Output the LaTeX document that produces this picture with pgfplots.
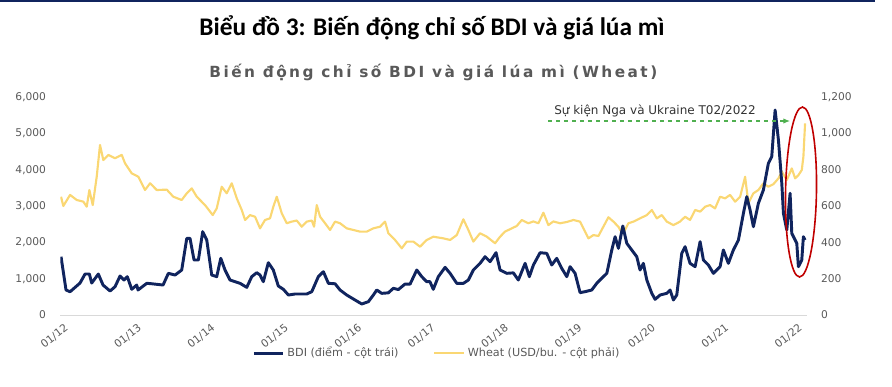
\documentclass[border=0pt]{standalone}
\usepackage{fontspec}
\setmainfont{DejaVu Sans}
\newfontfamily\carlito{Carlito}
\newfontfamily\subfont[LetterSpace=16]{DejaVu Sans}
\usepackage{pgfplots}
\pgfplotsset{compat=1.18}
\usetikzlibrary{arrows.meta}
\definecolor{bdi}{RGB}{16,36,94}
\definecolor{wheat}{RGB}{250,215,115}
\definecolor{tickgray}{RGB}{89,89,89}
\definecolor{ered}{RGB}{192,0,0}
\definecolor{agreen}{RGB}{80,176,80}

\pgfplotstableread{
x y
2012.000 651
2012.031 600
2012.123 661
2012.214 633
2012.304 624
2012.350 596
2012.386 688
2012.432 605
2012.486 761
2012.531 936
2012.576 853
2012.644 881
2012.736 863
2012.827 881
2012.872 835
2012.963 780
2013.053 761
2013.144 688
2013.213 725
2013.304 688
2013.440 690
2013.530 651
2013.644 633
2013.713 670
2013.781 697
2013.849 651
2013.962 605
2014.067 550
2014.121 587
2014.189 706
2014.257 670
2014.326 725
2014.394 642
2014.462 578
2014.507 523
2014.575 550
2014.643 541
2014.711 477
2014.779 523
2014.847 532
2014.892 596
2014.939 651
2015.007 560
2015.075 505
2015.143 514
2015.211 520
2015.279 486
2015.347 514
2015.416 520
2015.447 486
2015.484 605
2015.529 541
2015.597 505
2015.665 468
2015.733 514
2015.801 505
2015.892 477
2015.982 468
2016.074 459
2016.165 459
2016.255 477
2016.346 486
2016.414 514
2016.459 450
2016.550 413
2016.642 367
2016.710 404
2016.800 404
2016.891 376
2016.982 413
2017.072 431
2017.208 422
2017.300 413
2017.391 440
2017.481 527
2017.549 468
2017.617 404
2017.708 450
2017.800 431
2017.913 395
2017.981 431
2018.049 459
2018.140 477
2018.208 490
2018.277 523
2018.366 505
2018.435 515
2018.503 505
2018.571 563
2018.639 495
2018.707 515
2018.798 505
2018.890 512
2018.980 523
2019.071 514
2019.139 459
2019.185 422
2019.252 440
2019.321 435
2019.388 486
2019.457 538
2019.525 514
2019.593 486
2019.616 468
2019.661 450
2019.729 505
2019.797 514
2019.888 532
2019.980 550
2020.048 578
2020.116 532
2020.184 550
2020.252 514
2020.342 495
2020.433 514
2020.501 541
2020.569 523
2020.638 578
2020.706 569
2020.774 596
2020.842 605
2020.910 587
2020.978 651
2021.046 642
2021.114 661
2021.183 624
2021.251 651
2021.319 761
2021.364 615
2021.432 670
2021.500 688
2021.568 725
2021.636 706
2021.704 720
2021.773 752
2021.819 789
2021.887 743
2021.955 807
2022.000 752
2022.045 770
2022.091 798
2022.113 871
2022.136 1055
}\wheattable

\pgfplotstableread{
x y
2012.000 1605
2012.068 688
2012.123 640
2012.259 880
2012.327 1128
2012.386 1128
2012.418 880
2012.508 1128
2012.572 825
2012.668 660
2012.736 780
2012.804 1073
2012.858 963
2012.903 1055
2012.963 707
2013.031 825
2013.049 688
2013.168 872
2013.236 860
2013.390 825
2013.462 1147
2013.553 1100
2013.644 1238
2013.713 2110
2013.757 2110
2013.812 1513
2013.871 1513
2013.930 2293
2013.985 2064
2014.053 1100
2014.121 1055
2014.176 1560
2014.234 1238
2014.302 963
2014.439 872
2014.530 760
2014.598 1055
2014.666 1165
2014.711 1100
2014.756 917
2014.824 1440
2014.892 1238
2014.960 798
2015.029 707
2015.097 550
2015.188 578
2015.347 578
2015.416 642
2015.505 1055
2015.574 1192
2015.642 872
2015.733 860
2015.801 688
2015.892 550
2016.005 413
2016.097 303
2016.187 367
2016.255 550
2016.301 688
2016.369 596
2016.459 610
2016.527 735
2016.595 700
2016.687 853
2016.755 850
2016.846 1238
2016.914 1055
2016.982 917
2017.026 917
2017.071 707
2017.140 1055
2017.232 1312
2017.300 1147
2017.391 872
2017.481 870
2017.549 963
2017.617 1238
2017.708 1422
2017.777 1605
2017.845 1468
2017.926 1715
2017.981 1238
2018.072 1147
2018.162 1160
2018.230 963
2018.322 1422
2018.380 1055
2018.435 1376
2018.526 1715
2018.617 1697
2018.685 1376
2018.753 1560
2018.821 1285
2018.890 1055
2018.935 1330
2019.003 1147
2019.071 615
2019.139 642
2019.230 688
2019.298 872
2019.388 1055
2019.435 1147
2019.503 1789
2019.548 2155
2019.593 1835
2019.653 2450
2019.707 1973
2019.775 1789
2019.843 1605
2019.888 1238
2019.933 1422
2019.980 963
2020.048 596
2020.093 431
2020.161 550
2020.252 596
2020.297 688
2020.342 413
2020.388 550
2020.456 1697
2020.501 1880
2020.569 1422
2020.638 1330
2020.706 2018
2020.751 1513
2020.819 1376
2020.887 1147
2020.978 1330
2021.023 1789
2021.091 1422
2021.159 1789
2021.228 2064
2021.296 2799
2021.342 3256
2021.387 2890
2021.432 2430
2021.500 3074
2021.568 3440
2021.636 4175
2021.682 4357
2021.728 5642
2021.773 4816
2021.819 3624
2021.841 2799
2021.887 2339
2021.932 3349
2021.955 2248
2022.023 1973
2022.045 1330
2022.091 1513
2022.113 2155
2022.136 2064
}\bditable

\begin{document}
\begin{tikzpicture}
\path[use as bounding box] (0pt,0pt) rectangle (669pt,289.5pt);
\draw[bdi, line width=1.2pt] (0pt,288.9pt) -- (656pt,288.9pt);
\node at (324pt,268.5pt) {\carlito\bfseries\fontsize{19}{21}\selectfont Biểu đồ 3: Biến động chỉ số BDI và giá lúa mì};
\node[text=tickgray] at (325pt,235.5pt) {\subfont\bfseries\fontsize{11.5}{13}\selectfont Biến động chỉ số BDI và giá lúa mì (Wheat)};

% Wheat axis (right)
\begin{axis}[
  at={(45.225pt,53.25pt)}, anchor=south west,
  scale only axis, width=559.9pt, height=163.5pt,
  xmin=2011.99, xmax=2022.16, ymin=0, ymax=1200,
  axis y line*=right, axis x line=none,
  xtick=\empty,
  y axis line style={draw=none},
  ytick={0,200,...,1200},
  major tick length=0pt,
  yticklabel style={font=\fontsize{8}{9}\selectfont, text=tickgray, anchor=west, inner sep=0pt, xshift=10.5pt},
  /pgf/number format/1000 sep={,},
  /pgf/number format/assume math mode=true,
]
\addplot[wheat, line width=1.6pt, line join=round] table[x=x,y=y] {\wheattable};
\end{axis}

% BDI axis (left)
\begin{axis}[
  at={(45.225pt,53.25pt)}, anchor=south west,
  scale only axis, width=559.9pt, height=163.5pt,
  xmin=2011.99, xmax=2022.16, ymin=0, ymax=6000,
  axis x line*=bottom, axis y line*=left,
  y axis line style={draw=none},
  x axis line style={draw=black!15, line width=0.75pt, -},
  xtick={2012,2013,...,2022},
  xticklabels={01/12,01/13,01/14,01/15,01/16,01/17,01/18,01/19,01/20,01/21,01/22},
  ytick={0,1000,...,6000},
  major tick length=0pt,
  xticklabel style={font=\fontsize{8}{9}\selectfont, text=tickgray, rotate=38, anchor=east, inner sep=0pt, xshift=-2pt, yshift=-9.5pt},
  yticklabel style={font=\fontsize{8}{9}\selectfont, text=tickgray, anchor=east, inner sep=0pt, xshift=-10.5pt},
  legend style={at={(0.505,-0.175)}, anchor=center, draw=none, fill=none,
    font=\fontsize{8.4}{9}\selectfont, text=tickgray, legend columns=2,
    /tikz/every even column/.append style={column sep=24pt}},
  legend image code/.code={\draw[#1] (0pt,0pt) -- (22pt,0pt);},
  /pgf/number format/1000 sep={,},
  /pgf/number format/assume math mode=true,
]
\addplot[bdi, line width=2.2pt, line join=round] table[x=x,y=y] {\bditable};
\addlegendentry{BDI (điểm - cột trái)}
\addlegendimage{wheat, line width=2pt}
\addlegendentry{Wheat (USD/bu. - cột phải)}
\end{axis}

% annotations
\node[text=black!80, font=\fontsize{9}{10}\selectfont] at (491.25pt,206.25pt) {Sự kiện Nga và Ukraine T02/2022};
\draw[agreen, dashed, line width=0.8pt, -{Latex[length=5pt,width=4pt]}] (411pt,198.75pt) -- (592.5pt,198.75pt);
\draw[ered, line width=1.2pt, rotate around={-1:(600.75pt,145.5pt)}] (600.75pt,145.5pt) ellipse (11.6pt and 63.75pt);
\end{tikzpicture}
\end{document}
